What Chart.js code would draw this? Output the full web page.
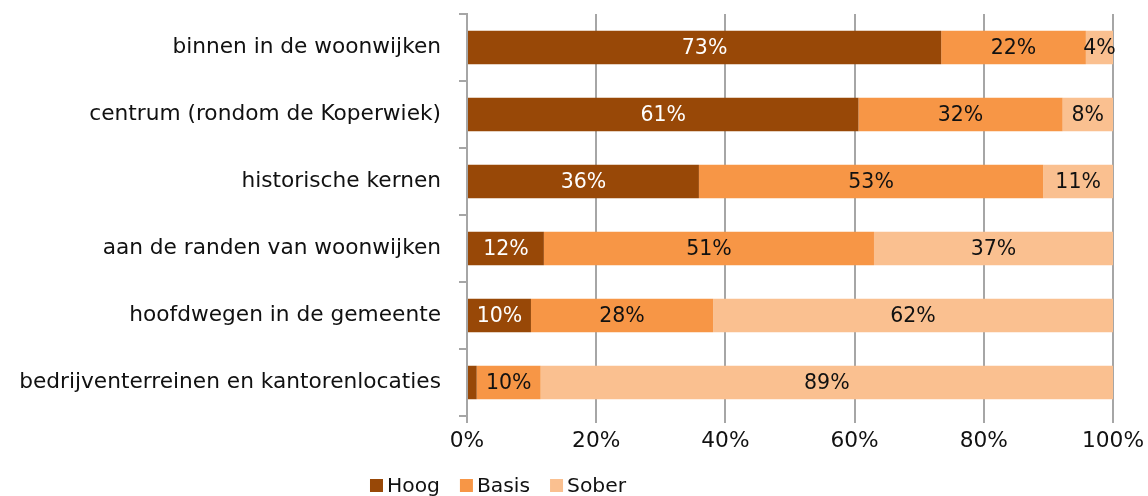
<!DOCTYPE html>
<html>
<head>
<meta charset="utf-8">
<script src="https://cdn.jsdelivr.net/npm/chart.js@4"></script>
<style>
  html, body { margin: 0; padding: 0; background: #fff; }
  #wrap { width: 1148px; height: 496px; position: relative; }
</style>
</head>
<body>
<div id="wrap"><canvas id="c" width="1148" height="496"></canvas></div>
<script>
const categories = [
  "binnen in de woonwijken",
  "centrum (rondom de Koperwiek)",
  "historische kernen",
  "aan de randen van woonwijken",
  "hoofdwegen in de gemeente",
  "bedrijventerreinen en kantorenlocaties"
];
const seriesNames = ["Hoog", "Basis", "Sober"];
const hoog  = [73.4, 60.6, 35.9, 11.9, 9.9, 1.5];
const basis = [22.4, 31.6, 53.3, 51.1, 28.2, 9.9];
const sober = [4.2, 7.8, 10.8, 37.0, 61.9, 88.6];
const xTicks = [0, 20, 40, 60, 80, 100];

const colors = ["#984807", "#F79646", "#FAC090"];
const labelColors = ["#ffffff", "#111111", "#111111"];
const FONT = "'DejaVu Sans', Verdana, sans-serif";
const GRID = "#a6a6a6";

const dataLabelPlugin = {
  id: "dataLabels",
  afterDatasetsDraw(chart) {
    const ctx = chart.ctx;
    ctx.save();
    ctx.font = "20.5px " + FONT;
    ctx.textAlign = "center";
    ctx.textBaseline = "middle";
    chart.data.datasets.forEach((ds, di) => {
      const meta = chart.getDatasetMeta(di);
      meta.data.forEach((bar, i) => {
        const v = ds.data[i];
        if (v < 3) return;
        const cx = (bar.x + bar.base) / 2;
        ctx.fillStyle = labelColors[di];
        ctx.fillText(Math.round(v) + "%", cx, bar.y + 1);
      });
    });
    ctx.restore();
  }
};

const legendPlugin = {
  id: "customLegend",
  afterDraw(chart) {
    const ctx = chart.ctx;
    ctx.save();
    ctx.font = "20.3px " + FONT;
    ctx.textBaseline = "alphabetic";
    const box = 13, gapText = 4, gapItem = 20;
    const items = chart.data.datasets.map(ds => ({ text: ds.label, color: ds.backgroundColor }));
    let total = 0;
    items.forEach((it, i) => {
      it.w = ctx.measureText(it.text).width;
      total += box + gapText + it.w + (i < items.length - 1 ? gapItem : 0);
    });
    let x = 498 - total / 2;
    const baseline = 492;
    items.forEach(it => {
      ctx.fillStyle = it.color;
      ctx.fillRect(x, baseline - 13, box, box);
      x += box + gapText;
      ctx.fillStyle = "#111111";
      ctx.fillText(it.text, x, baseline);
      x += it.w + gapItem;
    });
    ctx.restore();
  }
};

const seriesValues = [hoog, basis, sober];

new Chart(document.getElementById("c"), {
  type: "bar",
  data: {
    labels: categories,
    datasets: seriesNames.map((name, i) => ({
      label: name,
      data: seriesValues[i],
      backgroundColor: colors[i],
      borderWidth: 0,
      categoryPercentage: 1.0,
      barPercentage: 0.5
    }))
  },
  options: {
    indexAxis: "y",
    responsive: false,
    animation: false,
    devicePixelRatio: 1,
    layout: { padding: { left: 0, top: 14, right: 35, bottom: 0 } },
    plugins: {
      legend: { display: false },
      tooltip: { enabled: false },
      title: { display: false }
    },
    scales: {
      x: {
        stacked: true,
        min: 0,
        max: 100,
        afterBuildTicks(axis) { axis.ticks = xTicks.map(v => ({ value: v })); },
        afterFit(axis) { axis.height = 80; axis.paddingLeft = 0; axis.paddingRight = 0; },
        ticks: {
          callback: v => v + "%",
          font: { family: FONT, size: 21.7 },
          color: "#111111",
          padding: 5,
          maxRotation: 0
        },
        grid: { color: GRID, lineWidth: 2, tickLength: 7, drawTicks: true },
        border: { display: false }
      },
      y: {
        stacked: true,
        afterFit(axis) { axis.width = 467; axis.paddingTop = 0; axis.paddingBottom = 0; },
        ticks: {
          font: { family: FONT, size: 21.7 },
          color: "#111111",
          padding: 18
        },
        grid: { drawOnChartArea: false, drawTicks: true, tickLength: 8, offset: true, color: GRID, lineWidth: 2 },
        border: { display: true, color: GRID, width: 2 }
      }
    }
  },
  plugins: [dataLabelPlugin, legendPlugin]
});
</script>
</body>
</html>
